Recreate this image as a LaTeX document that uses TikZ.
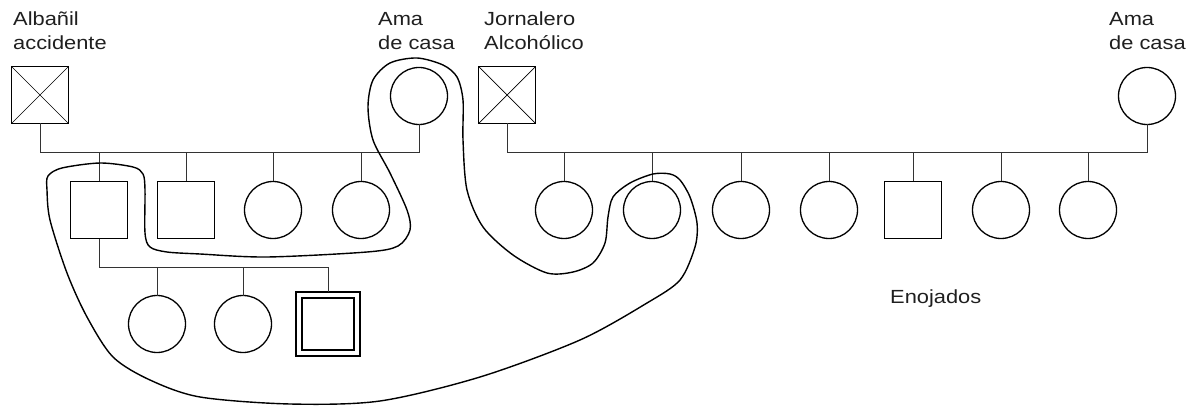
\documentclass[tikz,border=0pt]{standalone}
\usepackage{fontspec}
\setmainfont{Liberation Sans}
\usepackage{graphicx}
\newcommand{\widetext}[1]{\scalebox{1.15}[1]{#1}}
\begin{document}
\begin{tikzpicture}[x=1pt,y=-1pt,
  male/.style={draw, line width=1.3pt, minimum size=57pt, inner sep=0pt, outer sep=0pt},
  female/.style={draw, circle, line width=1.3pt, minimum size=57pt, inner sep=0pt, outer sep=0pt},
  link/.style={line width=0.9pt, black!80},
  cross/.style={line width=0.7pt},
  lbl/.style={font=\fontsize{19}{23}\selectfont, text=black!88, anchor=base west, inner sep=0pt},
  loopline/.style={line width=1.4pt, line join=round}]
\useasboundingbox (0,0) rectangle (1199,406);

% parents
\node[male] (alb) at (40,95) {};
\draw[cross] (alb.north west) -- (alb.south east) (alb.north east) -- (alb.south west);
\node[female] (amaL) at (419,96) {};
\node[male] (jor) at (507,95) {};
\draw[cross] (jor.north west) -- (jor.south east) (jor.north east) -- (jor.south west);
\node[female] (amaR) at (1147,96) {};

% children of the first couple
\node[male] (l1) at (99,210) {};
\node[male] (l2) at (186,210) {};
\node[female] (l3) at (273,210) {};
\node[female] (l4) at (361,210) {};

% grandchildren
\node[female] (g1) at (157,324) {};
\node[female] (g2) at (243,324) {};
\node[draw, line width=2.2pt, minimum size=64pt, inner sep=0pt, outer sep=0pt] (g3) at (328,324) {};
\node[draw, line width=2.4pt, minimum size=52pt, inner sep=0pt] (g3in) at (g3) {};

% children of the second couple
\node[female] (r1) at (564,210) {};
\node[female] (r2) at (652,210) {};
\node[female] (r3) at (741,210) {};
\node[female] (r4) at (829,210) {};
\node[male] (r5) at (913,210) {};
\node[female] (r6) at (1001,210) {};
\node[female] (r7) at (1088,210) {};

% family lines
\coordinate (lbar) at (0,152);
\coordinate (gbar) at (0,267);
\draw[link] (alb.south) -- (alb.south |- lbar) -| (amaL.south);
\foreach \k in {l1,l2,l3,l4} \draw[link] (\k.north) -- (\k.north |- lbar);
\draw[link] (l1.south) -- (l1.south |- gbar) -| (g3.north);
\foreach \k in {g1,g2} \draw[link] (\k.north) -- (\k.north |- gbar);
\draw[link] (jor.south) -- (jor.south |- lbar) -| (amaR.south);
\foreach \k in {r1,r2,r3,r4,r5,r6,r7} \draw[link] (\k.north) -- (\k.north |- lbar);

% labels
\node[lbl] (albA) at (13,26) {\widetext{Albañil}};
\node[lbl] (albB) at (13,50) {\widetext{accidente}};
\node[lbl] (amaLA) at (378,26) {\widetext{Ama}};
\node[lbl] (amaLB) at (378,50) {\widetext{de casa}};
\node[lbl] (jorA) at (484,26) {\widetext{Jornalero}};
\node[lbl] (jorB) at (484,50) {\widetext{Alcohólico}};
\node[lbl] (amaRA) at (1109,26) {\widetext{Ama}};
\node[lbl] (amaRB) at (1109,50) {\widetext{de casa}};
\node[lbl] (eno) at (890,303) {\widetext{Enojados}};

% hand-drawn enclosing loop
\draw[loopline] plot[smooth cycle, tension=0.5] coordinates {
  (48,176) (62,168) (100,163) (133,167) (143,174) (145,190) (145,233)
  (150,247) (167,252) (200,254) (267,257) (367,252) (398,246) (410,230)
  (407,210) (390,173) (373,140) (368,107) (373,80) (390,63) (417,58)
  (443,65) (457,77) (463,100) (463,140) (467,190) (483,227) (513,255)
  (547,273) (573,272) (593,263) (605,243) (608,217) (613,197) (630,183)
  (653,174) (670,174) (680,180) (690,197) (697,223) (695,247) (680,280)
  (647,303) (580,340) (480,377) (380,401) (290,404) (200,397) (150,380)
  (113,357) (87,317) (67,273) (50,220) (47,190)};
\end{tikzpicture}
\end{document}
